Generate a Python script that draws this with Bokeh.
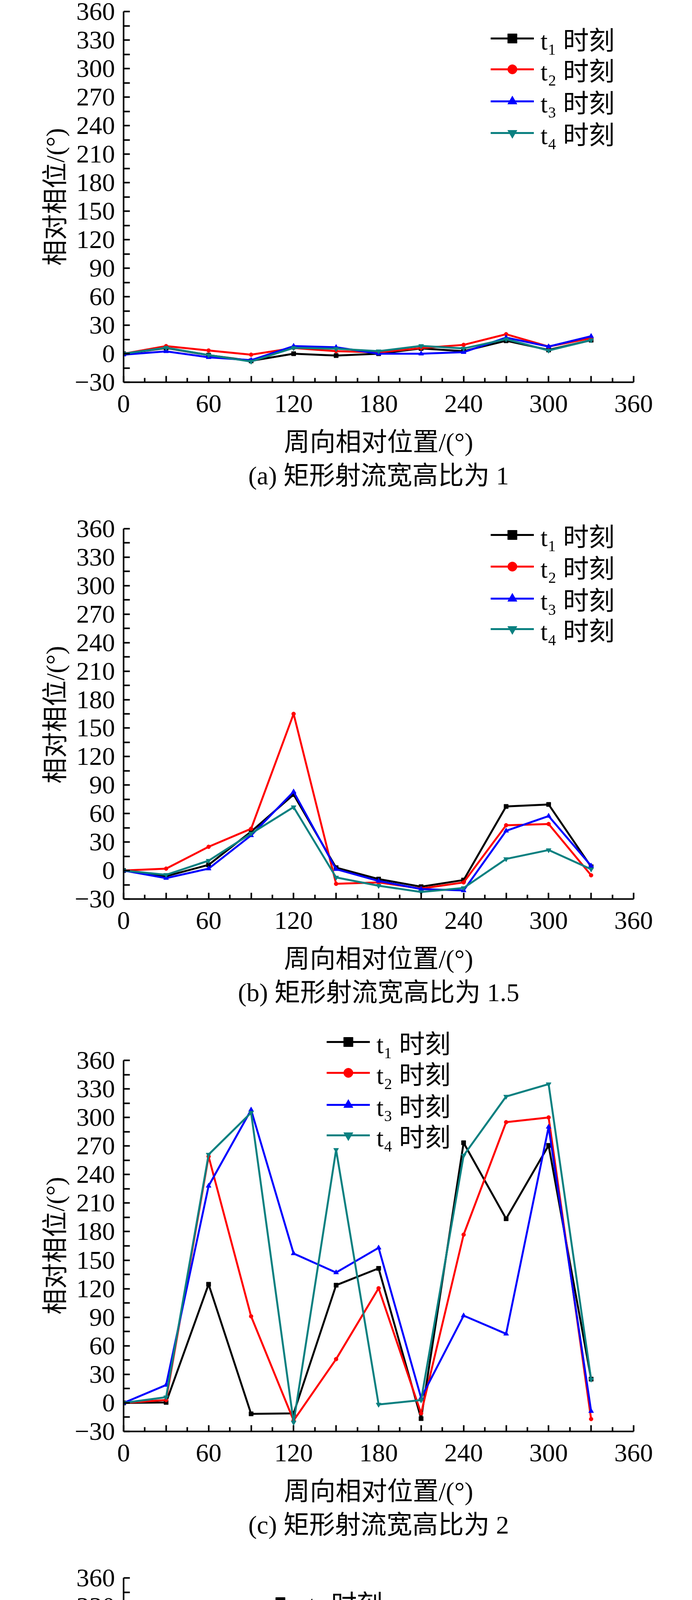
from bokeh.plotting import figure
from bokeh.layouts import column
from bokeh.models import (Range1d, FixedTicker, Legend, LegendItem, Title)
from bokeh.embed import file_html
from bokeh.resources import INLINE

# ---------------- data ----------------
POSITIONS = [0, 30, 60, 90, 120, 150, 180, 210, 240, 270, 300, 330]
SERIES_NAMES = ["t₁ 时刻", "t₂ 时刻", "t₃ 时刻", "t₄ 时刻"]

A_T1 = [0, 6, -1.5, -7.5, 0, -2, 0, 5.5, 2.7, 13.6, 4, 14.3]
A_T2 = [0, 8, 3.4, -1, 6, 2.7, 1.4, 6, 9.3, 20.5, 7.5, 16.4]
A_T3 = [-1, 2.5, -3.8, -6.8, 8, 6.8, 0, 0, 1.6, 17, 7.5, 18.4]
A_T4 = [0, 6.4, -1.4, -8.2, 6.1, 5.2, 2.7, 8.2, 5.5, 15.3, 3.4, 14.3]

B_T1 = [0, -6, 6, 41, 80, 3, -9, -17, -10, 67.5, 69.6, 4]
B_T2 = [0, 2, 25, 44, 165, -14, -12.5, -19, -12.5, 47.7, 49, -5]
B_T3 = [0, -8, 2, 37, 83, 1.4, -11, -19.5, -21, 41.8, 57.4, 5]
B_T4 = [0, -4.5, 10.4, 39, 66.8, -7.3, -16, -22.6, -18.4, 12.2, 21.6, 1.4]

C_T1 = [0, 0.5, 124.7, -11.5, -11, 123.7, 141.4, -16.5, 273.4, 193.5, 270.6, 25]
C_T2 = [0, 3, 259, 91, -18.5, 46, 120.5, -11, 176.8, 295, 300, -17]
C_T3 = [0, 18.8, 228, 308, 157, 137, 163, 5.3, 91.7, 72.6, 290, -8.7]
C_T4 = [0, 6, 261, 305, -20.6, 266, -1.7, 2.9, 260, 322, 335, 24.6]

D_T1 = [0, 4, 105.7, 122.4, 113.3, 89, 21.6, 32, 186.7, 271.5, 55.3, 150.9]
D_T2 = [0, 27.5, 303, 11, 88.3, 88.3, 171.7, 64, 158.8, 240.5, 299, 331.6]
D_T3 = [0, 33.4, 103, 11, 18, 181, 41.4, 70, 133.5, 75, 294, 220.4]
D_T4 = [0, 71.6, 305.5, 29.2, 111.6, 90.7, 179.7, 183.2, 179.7, 203.7, -18.8, 241]

X_TICKS = [0, 30, 60, 90, 120, 150, 180, 210, 240, 270, 300, 330, 360]
X_MINOR = [15, 45, 75, 105, 135, 165, 195, 225, 255, 285, 315, 345]
X_LABELED = [0, 60, 120, 180, 240, 300, 360]
Y_TICKS = [-30, 0, 30, 60, 90, 120, 150, 180, 210, 240, 270, 300, 330, 360]
Y_MINOR = [-15, 15, 45, 75, 105, 135, 165, 195, 225, 255, 285, 315, 345]
Y_MIN, Y_MAX = -30, 360

X_TITLE = "周向相对位置/(°)"
Y_TITLE = "相对相位/(°)"
CAPTIONS = ["(a) 矩形射流宽高比为 1", "(b) 矩形射流宽高比为 1.5",
            "(c) 矩形射流宽高比为 2", "(d) 矩形射流宽高比为 10"]

# ---------------- style ----------------
COLORS = ["#000000", "#ff0000", "#0000ff", "#0a8080"]
MARKERS = ["square", "circle", "triangle", "inverted_triangle"]
MSIZES = [11, 10, 13, 13]
SERIF = "Liberation Serif"
MIXED = "Liberation Serif, Noto Sans CJK SC"
FS = "66px"

FIG_W = 1756
BORDER_L = 316
FRAME_W = 1306
ITEM_H = 98      # measured height of one legend entry


def make_panel(series, caption, fig_h, border_top, frame_h, extra_top,
               legend_x, legend_rows, standoffs):
    # extra_top: the frame reaches this many px above the 360 line (room for the legend)
    border_bottom = fig_h - border_top - frame_h
    y_end = Y_MAX + extra_top * (Y_MAX - Y_MIN) / frame_h
    p = figure(width=FIG_W, height=fig_h, output_backend="svg", toolbar_location=None,
               x_range=Range1d(0, 360), y_range=Range1d(Y_MIN, y_end),
               min_border_left=BORDER_L, min_border_right=FIG_W - BORDER_L - FRAME_W,
               min_border_top=border_top - extra_top, min_border_bottom=border_bottom)
    p.outline_line_color = None
    p.xgrid.visible = False
    p.ygrid.visible = False
    p.background_fill_color = "white"
    p.border_fill_color = "white"

    items = []
    for vals, name, col, mk, ms in zip(series, SERIES_NAMES, COLORS, MARKERS, MSIZES):
        r1 = p.line(POSITIONS, vals, line_color=col, line_width=5)
        r2 = p.scatter(POSITIONS, vals, marker=mk, size=ms, fill_color=col, line_color=col)
        items.append(LegendItem(label=name, renderers=[r1, r2]))

    xa = p.xaxis[0]
    xa.ticker = FixedTicker(ticks=X_TICKS, minor_ticks=X_MINOR)
    xa.major_label_overrides = {t: ("" if t not in X_LABELED else str(t)) for t in X_TICKS}
    ya = p.yaxis[0]
    ya.ticker = FixedTicker(ticks=Y_TICKS, minor_ticks=Y_MINOR)
    ya.major_label_overrides = {-30: "−30"}
    ya.bounds = (Y_MIN, Y_MAX)
    for ax in (xa, ya):
        ax.axis_line_width = 4
        ax.axis_line_color = "black"
        ax.major_tick_line_width = 4
        ax.minor_tick_line_width = 4
        ax.major_tick_line_color = "black"
        ax.minor_tick_line_color = "black"
        ax.major_tick_out = 0
        ax.minor_tick_out = 0
        ax.major_tick_in = 16
        ax.major_label_text_font = SERIF
        ax.major_label_text_font_size = FS
        ax.major_label_text_color = "black"
        ax.axis_label_text_font = MIXED
        ax.axis_label_text_font_size = FS
        ax.axis_label_text_font_style = "normal"
        ax.axis_label_text_color = "black"
    xa.minor_tick_in = 11
    ya.minor_tick_in = 16
    lab_so, title_so, cap_so = standoffs
    xa.major_label_standoff = lab_so
    ya.major_label_standoff = 22
    xa.axis_label = X_TITLE
    # trailing no-break spaces keep the title centred on the -30..360 part of the axis
    ya.axis_label = Y_TITLE + "\u00a0" * int(round(extra_top / 16.5))
    xa.axis_label_standoff = title_so
    ya.axis_label_standoff = 10

    p.add_layout(Title(text=caption, align="center", text_font=MIXED, text_font_size=FS,
                       text_font_style="normal", text_color="black", standoff=cap_so), "below")

    # one legend per entry so that the rows sit exactly where the reference has them
    frame_bottom = border_top + frame_h
    for item, row in zip(items, legend_rows):
        lg = Legend(items=[item], location=(legend_x, frame_bottom - row - ITEM_H / 2),
                    label_text_font=MIXED, label_text_font_size=FS,
                    label_text_color="black",
                    glyph_width=111, glyph_height=60, label_height=60,
                    label_standoff=17, spacing=0, padding=0, margin=0,
                    border_line_color=None, background_fill_alpha=0)
        p.add_layout(lg, "center")
    return p


# legend rows: centre of each entry in px from the top of its figure
p1 = make_panel([A_T1, A_T2, A_T3, A_T4], CAPTIONS[0], 1292, 29, 949, 0,
                940, [97, 176, 258, 339], (33, 37, 16))
p2 = make_panel([B_T1, B_T2, B_T3, B_T4], CAPTIONS[1], 1305, 61, 948, 45,
                940, [76, 157, 239, 317], (33, 37, 16))
p3 = make_panel([C_T1, C_T2, C_T3, C_T4], CAPTIONS[2], 1380, 117, 950, 100,
                520, [69, 148, 230, 308], (33, 37, 16))
p4 = make_panel([D_T1, D_T2, D_T3, D_T4], CAPTIONS[3], 1274, 62, 949, 0,
                346, [123, 205, 285, 366], (30, 27, 0))

layout = column(p1, p2, p3, p4, spacing=0)
open("out.html", "w").write(file_html(layout, INLINE))
